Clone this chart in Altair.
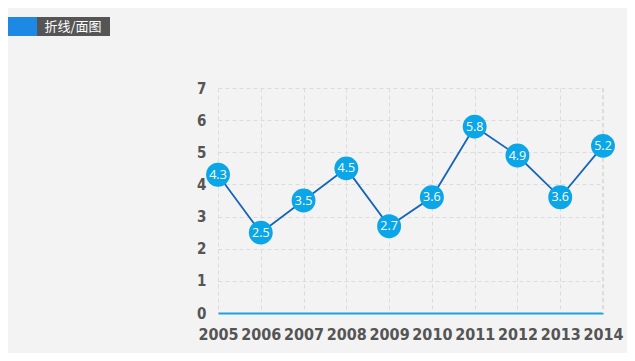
import altair as alt
import pandas as pd

years = [2005, 2006, 2007, 2008, 2009, 2010, 2011, 2012, 2013, 2014]
values = [4.3, 2.5, 3.5, 4.5, 2.7, 3.6, 5.8, 4.9, 3.6, 5.2]
y_ticks = [0, 1, 2, 3, 4, 5, 6, 7]
header_text = "折线/面图"

df = pd.DataFrame({"year": years, "value": values})

tick_font = "DejaVu Sans Condensed, Liberation Sans Narrow, sans-serif"

x = alt.X("year:Q", scale=alt.Scale(domain=[2005, 2014], nice=False, zero=False),
          axis=alt.Axis(values=years, format="d", title=None, grid=True,
                        gridDash=[4, 3], gridColor="#dcdcdc", gridWidth=1,
                        domainColor="#1aa3e0", domainWidth=2, ticks=False,
                        labelOverlap=False, labelFlush=False,
                        labelFont=tick_font, labelFontSize=16, labelFontWeight="bold",
                        labelColor="#555555", labelPadding=13))
y = alt.Y("value:Q", scale=alt.Scale(domain=[0, 7], nice=False),
          axis=alt.Axis(values=y_ticks, title=None, grid=True, gridDash=[4, 3],
                        gridColor="#dcdcdc", gridWidth=1, domain=False, ticks=False,
                        labelFlush=False,
                        labelFont=tick_font, labelFontSize=15, labelFontWeight="bold",
                        labelColor="#555555", labelPadding=12))

base = alt.Chart(df)

right_border = base.mark_rule(color="#dcdcdc", strokeDash=[4, 3]).encode(
    x=alt.value(385), y=alt.value(0), y2=alt.value(225))

line = base.mark_line(color="#1565b8", strokeWidth=1.8).encode(x=x, y=y)
pts = base.mark_circle(size=570, color="#0aa6e8", opacity=1).encode(x=x, y=y)
labels = base.mark_text(color="white", fontSize=12.5, font="Open Sans").encode(
    x=x, y=y, text=alt.Text("value:Q", format=".1f"))

hdr = pd.DataFrame({"t": [header_text]})
blue_bar = alt.Chart(hdr).mark_rect(color="#1e88e5").encode(
    x=alt.value(-212), x2=alt.value(-181), y=alt.value(-71), y2=alt.value(-52))
gray_box = alt.Chart(hdr).mark_rect(color="#555555").encode(
    x=alt.value(-181), x2=alt.value(-108), y=alt.value(-71), y2=alt.value(-52))
hdr_text = alt.Chart(hdr).mark_text(color="white", fontSize=13, font="Noto Sans CJK SC",
                                    align="center", baseline="middle").encode(
    x=alt.value(-145), y=alt.value(-61.5), text="t:N")

chart = alt.layer(right_border, line, pts, labels, blue_bar, gray_box, hdr_text).properties(
    width=385, height=225,
    padding={"left": 210, "top": 80, "right": 24, "bottom": 40},
    autosize=alt.AutoSizeParams(type="none"),
    background="#f3f3f3",
).configure_view(stroke=None)

chart.save("out.html", embed_options={"renderer": "svg", "actions": False})
